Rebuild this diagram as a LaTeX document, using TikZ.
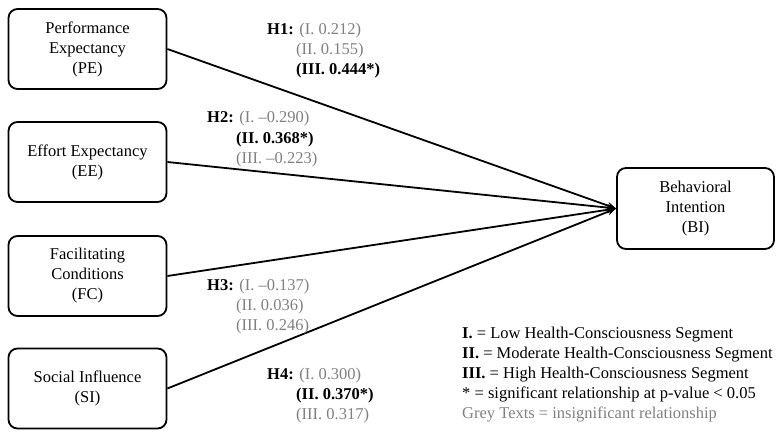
\documentclass[tikz,border=0pt]{standalone}
\usepackage{fontspec}
\setmainfont{Liberation Serif}
\usetikzlibrary{arrows.meta}
\definecolor{greytxt}{RGB}{128,128,128}
\begin{document}
\begin{tikzpicture}[x=1pt,y=-1pt,
  every node/.style={font=\fontsize{16.5}{20}\selectfont},
  cbox/.style={draw,line width=1.8pt,rounded corners=9pt,minimum width=158pt,minimum height=80pt,align=center,inner sep=0pt},
  conn/.style={line width=1.8pt,-{Stealth[length=9pt,width=7pt]}},
  lbl/.style={anchor=base west,inner sep=0pt},
  grey/.style={text=greytxt}]
\useasboundingbox (0,0) rectangle (781,433);
\node[cbox] (pe) at (87.5,49) {Performance\\Expectancy\\(PE)};
\node[cbox] (ee) at (87.5,162) {Effort Expectancy\\(EE)};
\node[cbox] (fc) at (87.5,276) {Facilitating\\Conditions\\(FC)};
\node[cbox] (si) at (87.5,388.5) {Social Influence\\(SI)};
\node[cbox,minimum width=157pt,minimum height=81pt] (bi) at (695.5,208.5) {Behavioral\\Intention\\(BI)};
\draw[conn] (pe.east) -- (bi.west);
\draw[conn] (ee.east) -- (bi.west);
\draw[conn] (fc.east) -- (bi.west);
\draw[conn] (si.east) -- (bi.west);
% H1
\node[lbl] (h1a) at (267,35) {\textbf{H1:} \textcolor{greytxt}{(I. 0.212)}};
\node[lbl,grey] (h1b) at (296,55) {(II. 0.155)};
\node[lbl] (h1c) at (296,75) {\textbf{(III. 0.444*)}};
% H2
\node[lbl] (h2a) at (207,123) {\textbf{H2:} \textcolor{greytxt}{(I. –0.290)}};
\node[lbl] (h2b) at (236,143) {\textbf{(II. 0.368*)}};
\node[lbl,grey] (h2c) at (236,163) {(III. –0.223)};
% H3
\node[lbl] (h3a) at (207,290) {\textbf{H3:} \textcolor{greytxt}{(I. –0.137)}};
\node[lbl,grey] (h3b) at (236,310) {(II. 0.036)};
\node[lbl,grey] (h3c) at (236,330) {(III. 0.246)};
% H4
\node[lbl] (h4a) at (267,379) {\textbf{H4:} \textcolor{greytxt}{(I. 0.300)}};
\node[lbl] (h4b) at (296,399) {\textbf{(II. 0.370*)}};
\node[lbl,grey] (h4c) at (296,419) {(III. 0.317)};
% legend
\node[lbl] (l1) at (462,338) {\textbf{I.} = Low Health-Consciousness Segment};
\node[lbl] (l2) at (462,358) {\textbf{II.} = Moderate Health-Consciousness Segment};
\node[lbl] (l3) at (462,378) {\textbf{III.} = High Health-Consciousness Segment};
\node[lbl] (l4) at (462,398) {* = significant relationship at p-value < 0.05};
\node[lbl,grey] (l5) at (462,418) {Grey Texts = insignificant relationship};
\end{tikzpicture}
\end{document}
